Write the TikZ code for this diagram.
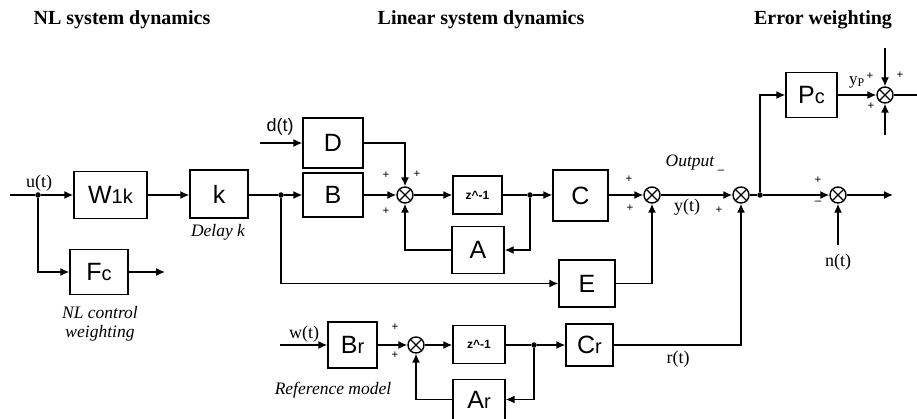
\documentclass[tikz,border=0pt]{standalone}
\usepackage{fontspec}
\setmainfont{Liberation Serif}
\setsansfont{Liberation Sans}
\usetikzlibrary{arrows.meta}
\newcommand\blkf{\sffamily\fontsize{25}{25}\selectfont}
\newcommand\subf{\sffamily\fontsize{20}{20}\selectfont}
\newcommand\zf{\sffamily\bfseries\fontsize{12}{12}\selectfont}
\newcommand\titf{\rmfamily\bfseries\fontsize{20}{20}\selectfont}
\newcommand\labf{\rmfamily\fontsize{18}{18}\selectfont}
\newcommand\itf{\rmfamily\itshape\fontsize{17.5}{19}\selectfont}
\newcommand\pmf{\sffamily\fontsize{11.5}{11.5}\selectfont}
\begin{document}
\begin{tikzpicture}[x=1pt,y=-1pt,
  blk/.style={draw,line width=1.4pt,inner sep=0pt,font=\blkf},
  sumn/.style={draw,circle,line width=1.4pt,minimum size=16pt,inner sep=0pt,
    path picture={\draw[line width=1.3pt]
      (path picture bounding box.north west) -- (path picture bounding box.south east)
      (path picture bounding box.north east) -- (path picture bounding box.south west);}},
  sig/.style={line width=1.4pt},
  arr/.style={sig,-{Latex[length=9pt,width=8pt]}},
  lab/.style={font=\labf,inner sep=0pt},
  itl/.style={font=\itf,inner sep=0pt,align=center},
  ttl/.style={font=\titf,inner sep=0pt},
  pm/.style={font=\pmf,inner sep=0pt},
  dot/.style={circle,fill,inner sep=0pt,minimum size=5.5pt}
]
\useasboundingbox (0,0) rectangle (917,419);

% titles
\node[ttl] (t1) at (122,20) {NL system dynamics};
\node[ttl] (t2) at (481,20) {Linear system dynamics};
\node[ttl] (t3) at (823,20) {Error weighting};

% blocks
\node[blk,minimum width=73pt,minimum height=47pt] (W) at (110.5,195) {W{\subf 1k}};
\node[blk,minimum width=58pt,minimum height=48pt] (K) at (219,194) {k};
\node[blk,minimum width=58pt,minimum height=45pt] (Fc) at (99,272) {F{\subf c}};
\node[blk,minimum width=60pt,minimum height=50pt] (D) at (333,143) {D};
\node[blk,minimum width=60pt,minimum height=44pt] (B) at (333,195) {B};
\node[blk,minimum width=49pt,minimum height=38pt,font=\zf] (Z1) at (477.5,195) {z\^{}-1};
\node[blk,minimum width=52pt,minimum height=47pt] (A) at (478,250) {A};
\node[blk,minimum width=55pt,minimum height=51pt] (C) at (580.5,195.5) {C};
\node[blk,minimum width=56pt,minimum height=47pt] (E) at (587,283.5) {E};
\node[blk,minimum width=49pt,minimum height=46pt] (Br) at (352.5,345) {B{\subf r}};
\node[blk,minimum width=52pt,minimum height=38pt,font=\zf] (Z2) at (479,344.5) {z\^{}-1};
\node[blk,minimum width=47pt,minimum height=42pt] (Cr) at (589.5,345) {C{\subf r}};
\node[blk,minimum width=52pt,minimum height=40pt] (Ar) at (479,399.5) {A{\subf r}};
\node[blk,minimum width=51pt,minimum height=45pt] (Pc) at (811.5,95) {P{\subf c}};

% summing junctions
\node[sumn] (S1) at (405,195) {};
\node[sumn] (S2) at (652,195) {};
\node[sumn] (S3) at (741,195) {};
\node[sumn] (S4) at (838,195) {};
\node[sumn] (S5) at (416,345) {};
\node[sumn] (S6) at (885,95) {};

% junction points and free ends
\node[dot] (ju) at (38,195) {};
\node[dot] (jk) at (281,195) {};
\node[dot] (jz) at (530,195) {};
\node[dot] (jo) at (760,195) {};
\node[dot] (jr) at (534,345) {};
\coordinate (uin) at (10,195);
\coordinate (fcout) at (165,272);
\coordinate (din) at (260,143);
\coordinate (win) at (280,345);
\coordinate (nin) at (838,245);
\coordinate (out4) at (893,195);
\coordinate (s6top) at (885,48);
\coordinate (s6bot) at (885,135);
\coordinate (s6out) at (917,95);

% connectors
\draw[sig] (uin) -- (ju);
\draw[arr] (ju) -- (W);
\draw[arr] (ju) |- (Fc);
\draw[arr] (Fc) -- (fcout);
\draw[arr] (W) -- (K.west |- W.east);
\draw[sig] (K.east |- jk) -- (jk);
\draw[arr] (jk) -- (B);
\draw[arr] (jk) |- (E);
\draw[arr] (din) -- (D);
\draw[arr] (D.east) -| (S1.north);
\draw[arr] (B) -- (S1);
\draw[arr] (S1) -- (Z1);
\draw[sig] (Z1) -- (jz);
\draw[arr] (jz) -- (C.west |- jz);
\draw[arr] (jz) |- (A.east);
\draw[arr] (A.west) -| (S1.south);
\draw[arr] (C.east |- S2) -- (S2);
\draw[arr] (E.east) -| (S2.south);
\draw[arr] (S2) -- (S3);
\draw[sig] (S3) -- (jo);
\draw[arr] (jo) -- (S4);
\draw[arr] (jo) |- (Pc.west);
\draw[arr] (Pc) -- (S6);
\draw[arr] (s6top) -- (S6);
\draw[arr] (s6bot) -- (S6);
\draw[sig] (S6) -- (s6out);
\draw[arr] (S4) -- (out4);
\draw[arr] (nin) -- (S4);
\draw[arr] (win) -- (Br);
\draw[arr] (Br) -- (S5);
\draw[arr] (S5) -- (Z2.west |- S5);
\draw[sig] (Z2.east |- jr) -- (jr);
\draw[arr] (jr) -- (Cr.west |- jr);
\draw[arr] (jr) |- (Ar.east);
\draw[arr] (Ar.west) -| (S5.south);
\draw[arr] (Cr.east) -| (S3.south);

% labels
\node[lab] (lu) at (39,183) {u(t)};
\node[lab,font=\sffamily\fontsize{18}{18}\selectfont] (ld) at (280,127) {d(t)};
\node[lab] (lw) at (304,334) {w(t)};
\node[lab] (ly) at (687,207) {y(t)};
\node[lab] (lr) at (678,359) {r(t)};
\node[lab] (ln) at (838,262) {n(t)};
\node[itl] (ldel) at (218,232) {Delay k};
\node[itl] (lnl) at (100,324) {NL control\\weighting};
\node[itl] (lref) at (333,390) {Reference model};
\node[itl] (lout) at (690,163) {Output};
\node[lab,font=\rmfamily\fontsize{17}{17}\selectfont] (lyp) at (857,82) {y\textsubscript{P}};

% signs
\node[pm] (p1) at (386,175) {+};
\node[pm] (p2) at (417,174) {+};
\node[pm] (p3) at (386,211) {+};
\node[pm] (p4) at (629,179) {+};
\node[pm] (p5) at (630,208) {+};
\node[pm] (p6) at (719,210) {+};
\node[pm] (m6) at (721,172) {\textendash};
\node[pm] (p7) at (818,180) {+};
\node[pm] (m7) at (818,203) {\textendash};
\node[pm] (p8) at (395,327) {+};
\node[pm] (p9) at (395,355) {+};
\node[pm] (p10) at (870,76) {+};
\node[pm] (p11) at (900,75) {+};
\node[pm] (p12) at (871,106) {+};
\end{tikzpicture}
\end{document}
